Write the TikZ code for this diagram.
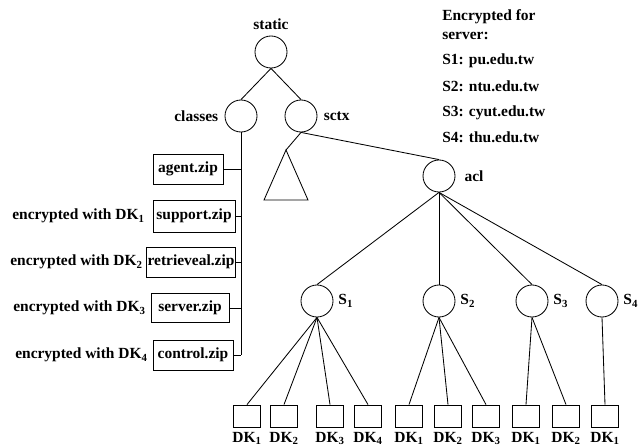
\documentclass[tikz,border=0pt]{standalone}
\usepackage{fontspec}
\setmainfont{Liberation Serif}
\usepackage{tikz}
\tikzstyle{dir} = [circle, draw=black, line width=0.6pt, minimum size=0.8cm, inner sep=0pt]
\tikzstyle{zipbox} = [rectangle, draw=black, line width=0.6pt, minimum height=0.75cm, inner sep=1pt, text centered]
\tikzstyle{keybox} = [rectangle, draw=black, line width=0.6pt, minimum width=0.67cm, minimum height=0.55cm, inner sep=0pt]
\tikzstyle{edge} = [line width=0.6pt]
\tikzstyle{note} = [inner sep=0pt, anchor=base west]
\tikzstyle{enc} = [inner sep=0pt, anchor=east]

\begin{document}
\begin{tikzpicture}[x=0.025cm, y=-0.025cm, font=\bfseries\fontsize{11}{13}\selectfont]
    \useasboundingbox (0,0) rectangle (638,446);
    % directory tree
    \node (static) [dir, label={[label distance=1pt]above:static}] at (271,52) {};
    \node (classes) [dir, label={[label distance=1pt]left:classes}] at (241,116) {};
    \node (sctx) [dir, label={[label distance=1pt]right:sctx}] at (301,116) {};
    \node (acl) [dir, label={[label distance=3pt]right:acl}] at (439,176) {};
    \draw [edge] (static.south) -- (classes.north);
    \draw [edge] (static.south) -- (sctx.north);
    \draw [edge] (sctx.south) -- (acl.north);
    \draw [edge] (286,150) coordinate (tri) -- (264,200) -- (308,200) -- cycle;
    \draw [edge] (sctx.south) -- (tri);
    % zip files
    \node (agent) [zipbox, minimum width=1.75cm] at (188,169) {agent.zip};
    \node (support) [zipbox, minimum width=2.05cm, minimum height=0.8cm] at (194,216) {support.zip};
    \node (retrieveal) [zipbox, minimum width=2.17cm] at (191,262) {retrieveal.zip};
    \node (server) [zipbox, minimum width=1.95cm, minimum height=0.72cm] at (190,308) {server.zip};
    \node (control) [zipbox, minimum width=2cm] at (193,355) {control.zip};
    \coordinate (trunk) at (241,355);
    \draw [edge] (classes.south) -- (trunk);
    \draw [edge] (agent.east) -- (agent.east -| trunk);
    \draw [edge] (support.east) -- (support.east -| trunk);
    \draw [edge] (retrieveal.east) -- (retrieveal.east -| trunk);
    \draw [edge] (server.east) -- (server.east -| trunk);
    \draw [edge] (control.east) -- (trunk);
    \node (enc1) [enc] at (145,216) {encrypted with DK\textsubscript{1}};
    \node (enc2) [enc] at (143,262) {encrypted with DK\textsubscript{2}};
    \node (enc3) [enc] at (146,308) {encrypted with DK\textsubscript{3}};
    \node (enc4) [enc] at (148,355) {encrypted with DK\textsubscript{4}};
    % servers
    \node (s1) [dir, label={right:S\textsubscript{1}}] at (317,301) {};
    \node (s2) [dir, label={right:S\textsubscript{2}}] at (439,301) {};
    \node (s3) [dir, label={right:S\textsubscript{3}}] at (532,301) {};
    \node (s4) [dir, label={right:S\textsubscript{4}}] at (602,301) {};
    \draw [edge] (acl.south) -- (s1.north);
    \draw [edge] (acl.south) -- (s2.north);
    \draw [edge] (acl.south) -- (s3.north);
    \draw [edge] (acl.south) -- (s4.north);
    % keys
    \node (k11) [keybox, label={below:DK\textsubscript{1}}] at (247,416) {};
    \node (k12) [keybox, label={below:DK\textsubscript{2}}] at (284,416) {};
    \node (k13) [keybox, label={below:DK\textsubscript{3}}] at (330,416) {};
    \node (k14) [keybox, label={below:DK\textsubscript{4}}] at (368,416) {};
    \node (k21) [keybox, label={below:DK\textsubscript{1}}] at (409,416) {};
    \node (k22) [keybox, label={below:DK\textsubscript{2}}] at (448,416) {};
    \node (k23) [keybox, label={below:DK\textsubscript{3}}] at (486,416) {};
    \node (k31) [keybox, label={below:DK\textsubscript{1}}] at (526,416) {};
    \node (k32) [keybox, label={below:DK\textsubscript{2}}] at (566,416) {};
    \node (k41) [keybox, label={below:DK\textsubscript{1}}] at (605,416) {};
    \draw [edge] (s1.south) -- (k11.north);
    \draw [edge] (s1.south) -- (k12.north);
    \draw [edge] (s1.south) -- (k13.north);
    \draw [edge] (s1.south) -- (k14.north);
    \draw [edge] (s2.south) -- (k21.north);
    \draw [edge] (s2.south) -- (k22.north);
    \draw [edge] (s2.south) -- (k23.north);
    \draw [edge] (s3.south) -- (k31.north);
    \draw [edge] (s3.south) -- (k32.north);
    \draw [edge] (s4.south) -- (k41.north);
    % server names
    \node (head1) [note] at (442,21) {Encrypted for};
    \node (head2) [note] at (442,40) {server:};
    \node (name1) [note] at (442,65) {S1: pu.edu.tw};
    \node (name2) [note] at (442,92) {S2: ntu.edu.tw};
    \node (name3) [note] at (442,117) {S3: cyut.edu.tw};
    \node (name4) [note] at (442,143) {S4: thu.edu.tw};
\end{tikzpicture}
\end{document}
